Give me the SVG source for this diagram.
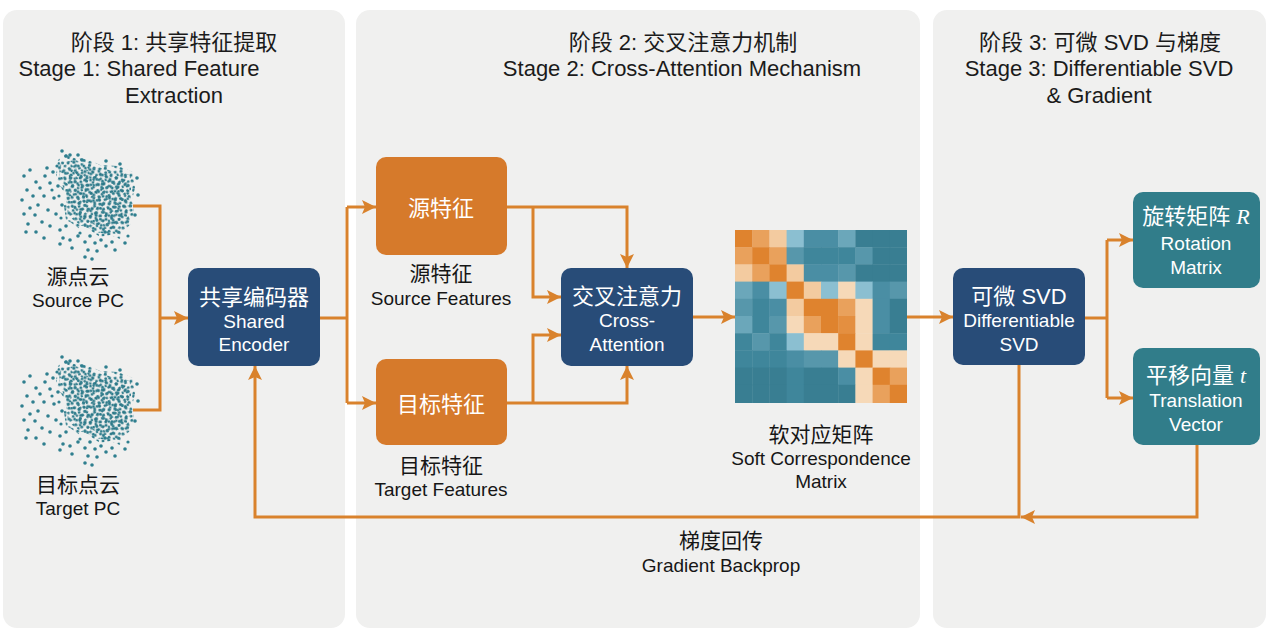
<svg xmlns="http://www.w3.org/2000/svg" width="1269" height="630" viewBox="0 0 1269 630">
  <defs>
    <style>
      text { font-family: "Liberation Sans", "Noto Sans CJK SC", sans-serif; text-anchor: middle; dominant-baseline: central; }
      .panel { fill: #f0f0ef; }
      .title { font-size: 22px; fill: #1b1b1b; }
      .cn { font-size: 21px; fill: #161616; }
      .en { font-size: 19px; fill: #161616; }
      .bcn { font-size: 22px; fill: #ffffff; }
      .ben { font-size: 19px; fill: #ffffff; }
      .blue { fill: #284c78; }
      .orange { fill: #d67a2b; }
      .teal { fill: #317d8a; }
      .conn { fill: none; stroke: #d9822c; stroke-width: 3; }
      .math { font-family: "Liberation Serif", "DejaVu Serif", serif; font-style: italic; }
      .dot { fill: #2f7f8f; }
    </style>
    <marker id="arrow" markerUnits="userSpaceOnUse" markerWidth="16" markerHeight="16" refX="14" refY="7" orient="auto">
      <path d="M0,0 L14,7 L0,14 L3,7 Z" fill="#d9822c"/>
    </marker>
    <!-- irregular dot tiles for the dense core of a point cloud -->
    <pattern id="dotsA" patternUnits="userSpaceOnUse" width="16" height="16" patternTransform="rotate(11)">
      <g fill="#2c7b8b">
        <circle cx="2" cy="3" r="1.5"/><circle cx="7.5" cy="1.2" r="1.5"/><circle cx="12.5" cy="4" r="1.5"/>
        <circle cx="4.2" cy="8.3" r="1.5"/><circle cx="10.4" cy="9.2" r="1.5"/><circle cx="14.3" cy="12.6" r="1.5"/>
        <circle cx="1.3" cy="13.4" r="1.5"/><circle cx="7.2" cy="14.2" r="1.5"/><circle cx="8.8" cy="5.3" r="1.4"/>
      </g>
    </pattern>
    <pattern id="dotsB" patternUnits="userSpaceOnUse" width="13" height="13" patternTransform="rotate(-23) translate(2 5)">
      <g fill="#337f8e">
        <circle cx="1" cy="2" r="1.4"/><circle cx="6" cy="4.3" r="1.4"/><circle cx="11" cy="1.2" r="1.4"/>
        <circle cx="3.2" cy="8" r="1.4"/><circle cx="9.1" cy="9.4" r="1.4"/><circle cx="5.4" cy="12" r="1.4"/>
        <circle cx="12.1" cy="6.8" r="1.4"/>
      </g>
    </pattern>
    <pattern id="dotsC" patternUnits="userSpaceOnUse" width="11" height="11" patternTransform="rotate(41) translate(4 1)">
      <g fill="#2a7686">
        <circle cx="2.4" cy="1.8" r="1.3"/><circle cx="8.2" cy="3.9" r="1.3"/><circle cx="4.6" cy="7.7" r="1.3"/>
        <circle cx="9.8" cy="9.6" r="1.3"/>
      </g>
    </pattern>
    <!-- one point cloud, drawn at the source position -->
    <g id="cloud">
      <path d="M58,160 L66,154 L75,158 L88,159 L100,165 L118,166 L133,172 L135,188 L132,200 L134,212 L130,225 L122,232 L120,239 L110,235 L100,237 L90,230 L80,229 L70,222 L66,220 L64,206 L66,195 L60,186 L56,175 Z" fill="url(#dotsA)"/>
      <path d="M60,163 L75,160 L100,168 L131,175 L131,200 L128,223 L118,234 L100,233 L80,225 L68,216 L66,195 L59,176 Z" fill="url(#dotsB)"/>
      <path d="M68,168 L100,171 L128,180 L127,216 L112,229 L84,222 L72,208 Z" fill="url(#dotsC)"/>
      <g class="dot">
        <circle cx="24" cy="176" r="1.8"/><circle cx="30" cy="170" r="1.8"/><circle cx="36" cy="182" r="1.8"/>
        <circle cx="27" cy="190" r="1.8"/><circle cx="33" cy="196" r="1.8"/><circle cx="40" cy="188" r="1.8"/>
        <circle cx="45" cy="176" r="1.8"/><circle cx="50" cy="183" r="1.8"/><circle cx="44" cy="196" r="1.8"/>
        <circle cx="38" cy="205" r="1.8"/><circle cx="30" cy="208" r="1.8"/><circle cx="24" cy="214" r="1.8"/>
        <circle cx="35" cy="215" r="1.8"/><circle cx="42" cy="222" r="1.8"/><circle cx="28" cy="224" r="1.8"/>
        <circle cx="48" cy="210" r="1.8"/><circle cx="54" cy="198" r="1.8"/><circle cx="56" cy="214" r="1.8"/>
        <circle cx="50" cy="226" r="1.8"/><circle cx="36" cy="232" r="1.8"/><circle cx="22" cy="200" r="1.8"/>
        <circle cx="60" cy="230" r="1.8"/><circle cx="58" cy="186" r="1.8"/><circle cx="47" cy="168" r="1.8"/>
        <circle cx="53" cy="172" r="1.8"/><circle cx="63" cy="238" r="1.8"/><circle cx="70" cy="240" r="1.8"/>
        <circle cx="78" cy="236" r="1.8"/><circle cx="85" cy="242" r="1.8"/><circle cx="72" cy="248" r="1.8"/>
        <circle cx="60" cy="244" r="1.8"/><circle cx="44" cy="238" r="1.8"/><circle cx="26" cy="232" r="1.8"/>
        <circle cx="90" cy="236" r="1.8"/><circle cx="95" cy="243" r="1.8"/><circle cx="88" cy="250" r="1.8"/>
        <circle cx="97" cy="251" r="1.8"/><circle cx="85" cy="257" r="1.8"/><circle cx="92" cy="259" r="1.8"/>
        <circle cx="101" cy="240" r="1.8"/><circle cx="106" cy="246" r="1.8"/><circle cx="62" cy="151" r="1.8"/>
        <circle cx="70" cy="155" r="1.8"/><circle cx="82" cy="160" r="1.8"/><circle cx="106" cy="161" r="1.8"/>
        <circle cx="120" cy="164" r="1.8"/><circle cx="137" cy="178" r="1.8"/><circle cx="138" cy="195" r="1.8"/>
        <circle cx="135" cy="215" r="1.8"/><circle cx="125" cy="243" r="1.8"/><circle cx="112" cy="242" r="1.8"/>
        <circle cx="115" cy="250" r="1.8"/><circle cx="105" cy="232" r="1.8"/><circle cx="66" cy="156" r="1.8"/>
        <circle cx="78" cy="155" r="1.8"/><circle cx="62" cy="205" r="1.8"/><circle cx="66" cy="226" r="1.8"/>
        <circle cx="59" cy="196" r="1.6"/><circle cx="61" cy="218" r="1.6"/><circle cx="52" cy="190" r="1.6"/>
        <circle cx="57" cy="166" r="1.6"/><circle cx="128" cy="236" r="1.6"/><circle cx="80" cy="233" r="1.6"/>
      </g>
    </g>
  </defs>

  <rect width="1269" height="630" fill="#ffffff"/>

  <!-- stage panels -->
  <g id="panels">
    <rect class="panel" x="3" y="10" width="342" height="618" rx="14"/>
    <rect class="panel" x="356" y="10" width="564" height="618" rx="14"/>
    <rect class="panel" x="933" y="10" width="333" height="618" rx="14"/>
  </g>

  <g id="titles">
    <text class="title" x="174" y="42">阶段 1: 共享特征提取</text>
    <text class="title" x="139" y="68">Stage 1: Shared Feature</text>
    <text class="title" x="174" y="95">Extraction</text>
    <text class="title" x="683" y="42">阶段 2: 交叉注意力机制</text>
    <text class="title" x="682" y="68">Stage 2: Cross-Attention Mechanism</text>
    <text class="title" x="1100" y="42">阶段 3: 可微 SVD 与梯度</text>
    <text class="title" x="1099" y="68">Stage 3: Differentiable SVD</text>
    <text class="title" x="1099" y="95">&amp; Gradient</text>
  </g>

  <!-- connectors -->
  <g id="connectors">
    <path class="conn" d="M133,206 H160 V410 H133"/>
    <path class="conn" d="M160,318 H188" marker-end="url(#arrow)"/>
    <path class="conn" d="M320,318 H347"/>
    <path class="conn" d="M347,207 V403"/>
    <path class="conn" d="M347,207 H376" marker-end="url(#arrow)"/>
    <path class="conn" d="M347,403 H376" marker-end="url(#arrow)"/>
    <path class="conn" d="M507,207 H627 V268" marker-end="url(#arrow)"/>
    <path class="conn" d="M533,207 V297 H561" marker-end="url(#arrow)"/>
    <path class="conn" d="M507,403 H627 V366" marker-end="url(#arrow)"/>
    <path class="conn" d="M533,403 V335 H561" marker-end="url(#arrow)"/>
    <path class="conn" d="M693,317 H735" marker-end="url(#arrow)"/>
    <path class="conn" d="M907,317 H953" marker-end="url(#arrow)"/>
    <path class="conn" d="M1085,318 H1107"/>
    <path class="conn" d="M1107,240 V398"/>
    <path class="conn" d="M1107,240 H1133" marker-end="url(#arrow)"/>
    <path class="conn" d="M1107,398 H1133" marker-end="url(#arrow)"/>
    <path class="conn" d="M1019,365 V517 H255 V366" marker-end="url(#arrow)"/>
    <path class="conn" d="M1197,445 V517 H1021" marker-end="url(#arrow)"/>
  </g>

  <g id="source-pc">
    <use href="#cloud"/>
    <text class="cn" x="78" y="276">源点云</text>
    <text class="en" x="78" y="300">Source PC</text>
  </g>

  <g id="target-pc">
    <use href="#cloud" transform="translate(0 206)"/>
    <text class="cn" x="78" y="484">目标点云</text>
    <text class="en" x="78" y="508">Target PC</text>
  </g>

  <g id="shared-encoder">
    <rect class="blue" x="188" y="268" width="132" height="98" rx="10"/>
    <text class="bcn" x="254" y="297">共享编码器</text>
    <text class="ben" x="254" y="321">Shared</text>
    <text class="ben" x="254" y="344">Encoder</text>
  </g>

  <g id="source-features">
    <rect class="orange" x="376" y="157" width="131" height="98" rx="10"/>
    <text class="bcn" x="441" y="208">源特征</text>
    <text class="cn" x="441" y="273">源特征</text>
    <text class="en" x="441" y="298">Source Features</text>
  </g>

  <g id="target-features">
    <rect class="orange" x="376" y="359" width="131" height="86" rx="10"/>
    <text class="bcn" x="441" y="404">目标特征</text>
    <text class="cn" x="441" y="465">目标特征</text>
    <text class="en" x="441" y="489">Target Features</text>
  </g>

  <g id="cross-attention">
    <rect class="blue" x="561" y="268" width="132" height="98" rx="10"/>
    <text class="bcn" x="627" y="296">交叉注意力</text>
    <text class="ben" x="627" y="320">Cross-</text>
    <text class="ben" x="627" y="344">Attention</text>
  </g>

  <!-- 10x10 soft correspondence heatmap, cell 17.2 -->
  <g id="soft-correspondence">
    <g>
      <!-- row 0 -->
      <rect x="735" y="230" width="17.6" height="17.6" fill="#df832e"/>
      <rect x="752.2" y="230" width="17.6" height="17.6" fill="#e9a15c"/>
      <rect x="769.4" y="230" width="17.6" height="17.6" fill="#f3cba0"/>
      <rect x="786.6" y="230" width="17.6" height="17.6" fill="#8bbfd1"/>
      <rect x="803.8" y="230" width="17.6" height="17.6" fill="#4a8ea4"/>
      <rect x="821" y="230" width="17.6" height="17.6" fill="#4a8ea4"/>
      <rect x="838.2" y="230" width="17.6" height="17.6" fill="#6ba7ba"/>
      <rect x="855.4" y="230" width="17.6" height="17.6" fill="#397e92"/>
      <rect x="872.6" y="230" width="17.6" height="17.6" fill="#397e92"/>
      <rect x="889.8" y="230" width="17.2" height="17.6" fill="#397e92"/>
      <!-- row 1 -->
      <rect x="735" y="247.2" width="17.6" height="17.6" fill="#e9a15c"/>
      <rect x="752.2" y="247.2" width="17.6" height="17.6" fill="#df832e"/>
      <rect x="769.4" y="247.2" width="17.6" height="17.6" fill="#e9a15c"/>
      <rect x="786.6" y="247.2" width="17.6" height="17.6" fill="#5797ab"/>
      <rect x="803.8" y="247.2" width="17.6" height="17.6" fill="#3f869b"/>
      <rect x="821" y="247.2" width="17.6" height="17.6" fill="#3f869b"/>
      <rect x="838.2" y="247.2" width="17.6" height="17.6" fill="#3f869b"/>
      <rect x="855.4" y="247.2" width="17.6" height="17.6" fill="#5797ab"/>
      <rect x="872.6" y="247.2" width="17.6" height="17.6" fill="#397e92"/>
      <rect x="889.8" y="247.2" width="17.2" height="17.6" fill="#397e92"/>
      <!-- row 2 -->
      <rect x="735" y="264.4" width="17.6" height="17.6" fill="#f3cba0"/>
      <rect x="752.2" y="264.4" width="17.6" height="17.6" fill="#e9a15c"/>
      <rect x="769.4" y="264.4" width="17.6" height="17.6" fill="#df832e"/>
      <rect x="786.6" y="264.4" width="17.6" height="17.6" fill="#f3cba0"/>
      <rect x="803.8" y="264.4" width="17.6" height="17.6" fill="#4a8ea4"/>
      <rect x="821" y="264.4" width="17.6" height="17.6" fill="#4a8ea4"/>
      <rect x="838.2" y="264.4" width="17.6" height="17.6" fill="#5797ab"/>
      <rect x="855.4" y="264.4" width="17.6" height="17.6" fill="#397e92"/>
      <rect x="872.6" y="264.4" width="17.6" height="17.6" fill="#397e92"/>
      <rect x="889.8" y="264.4" width="17.2" height="17.6" fill="#397e92"/>
      <!-- row 3 -->
      <rect x="735" y="281.6" width="17.6" height="17.6" fill="#6ba7ba"/>
      <rect x="752.2" y="281.6" width="17.6" height="17.6" fill="#4a8ea4"/>
      <rect x="769.4" y="281.6" width="17.6" height="17.6" fill="#8bbfd1"/>
      <rect x="786.6" y="281.6" width="17.6" height="17.6" fill="#df832e"/>
      <rect x="803.8" y="281.6" width="17.6" height="17.6" fill="#f3cba0"/>
      <rect x="821" y="281.6" width="17.6" height="17.6" fill="#8bbfd1"/>
      <rect x="838.2" y="281.6" width="17.6" height="17.6" fill="#f6d9b8"/>
      <rect x="855.4" y="281.6" width="17.6" height="17.6" fill="#8bbfd1"/>
      <rect x="872.6" y="281.6" width="17.6" height="17.6" fill="#4a8ea4"/>
      <rect x="889.8" y="281.6" width="17.2" height="17.6" fill="#5797ab"/>
      <!-- row 4 -->
      <rect x="735" y="298.8" width="17.6" height="17.6" fill="#5797ab"/>
      <rect x="752.2" y="298.8" width="17.6" height="17.6" fill="#3f869b"/>
      <rect x="769.4" y="298.8" width="17.6" height="17.6" fill="#4a8ea4"/>
      <rect x="786.6" y="298.8" width="17.6" height="17.6" fill="#f3cba0"/>
      <rect x="803.8" y="298.8" width="17.6" height="17.6" fill="#df832e"/>
      <rect x="821" y="298.8" width="17.6" height="17.6" fill="#df832e"/>
      <rect x="838.2" y="298.8" width="17.6" height="17.6" fill="#e9a15c"/>
      <rect x="855.4" y="298.8" width="17.6" height="17.6" fill="#f6d9b8"/>
      <rect x="872.6" y="298.8" width="17.6" height="17.6" fill="#4a8ea4"/>
      <rect x="889.8" y="298.8" width="17.2" height="17.6" fill="#397e92"/>
      <!-- row 5 -->
      <rect x="735" y="316" width="17.6" height="17.6" fill="#6ba7ba"/>
      <rect x="752.2" y="316" width="17.6" height="17.6" fill="#3f869b"/>
      <rect x="769.4" y="316" width="17.6" height="17.6" fill="#5797ab"/>
      <rect x="786.6" y="316" width="17.6" height="17.6" fill="#f6d9b8"/>
      <rect x="803.8" y="316" width="17.6" height="17.6" fill="#e9a15c"/>
      <rect x="821" y="316" width="17.6" height="17.6" fill="#df832e"/>
      <rect x="838.2" y="316" width="17.6" height="17.6" fill="#e48f40"/>
      <rect x="855.4" y="316" width="17.6" height="17.6" fill="#f6d9b8"/>
      <rect x="872.6" y="316" width="17.6" height="17.6" fill="#4a8ea4"/>
      <rect x="889.8" y="316" width="17.2" height="17.6" fill="#397e92"/>
      <!-- row 6 -->
      <rect x="735" y="333.2" width="17.6" height="17.6" fill="#3f869b"/>
      <rect x="752.2" y="333.2" width="17.6" height="17.6" fill="#5797ab"/>
      <rect x="769.4" y="333.2" width="17.6" height="17.6" fill="#3f869b"/>
      <rect x="786.6" y="333.2" width="17.6" height="17.6" fill="#8bbfd1"/>
      <rect x="803.8" y="333.2" width="17.6" height="17.6" fill="#f6d9b8"/>
      <rect x="821" y="333.2" width="17.6" height="17.6" fill="#f6d9b8"/>
      <rect x="838.2" y="333.2" width="17.6" height="17.6" fill="#df832e"/>
      <rect x="855.4" y="333.2" width="17.6" height="17.6" fill="#f6d9b8"/>
      <rect x="872.6" y="333.2" width="17.6" height="17.6" fill="#3f869b"/>
      <rect x="889.8" y="333.2" width="17.2" height="17.6" fill="#3f869b"/>
      <!-- row 7 -->
      <rect x="735" y="350.4" width="17.6" height="17.6" fill="#3f869b"/>
      <rect x="752.2" y="350.4" width="17.6" height="17.6" fill="#3f869b"/>
      <rect x="769.4" y="350.4" width="17.6" height="17.6" fill="#3f869b"/>
      <rect x="786.6" y="350.4" width="17.6" height="17.6" fill="#4a8ea4"/>
      <rect x="803.8" y="350.4" width="17.6" height="17.6" fill="#5797ab"/>
      <rect x="821" y="350.4" width="17.6" height="17.6" fill="#5797ab"/>
      <rect x="838.2" y="350.4" width="17.6" height="17.6" fill="#f6d9b8"/>
      <rect x="855.4" y="350.4" width="17.6" height="17.6" fill="#df832e"/>
      <rect x="872.6" y="350.4" width="17.6" height="17.6" fill="#f6d9b8"/>
      <rect x="889.8" y="350.4" width="17.2" height="17.6" fill="#f6d9b8"/>
      <!-- row 8 -->
      <rect x="735" y="367.6" width="17.6" height="17.6" fill="#397e92"/>
      <rect x="752.2" y="367.6" width="17.6" height="17.6" fill="#397e92"/>
      <rect x="769.4" y="367.6" width="17.6" height="17.6" fill="#397e92"/>
      <rect x="786.6" y="367.6" width="17.6" height="17.6" fill="#3f869b"/>
      <rect x="803.8" y="367.6" width="17.6" height="17.6" fill="#397e92"/>
      <rect x="821" y="367.6" width="17.6" height="17.6" fill="#397e92"/>
      <rect x="838.2" y="367.6" width="17.6" height="17.6" fill="#4a8ea4"/>
      <rect x="855.4" y="367.6" width="17.6" height="17.6" fill="#f6d9b8"/>
      <rect x="872.6" y="367.6" width="17.6" height="17.6" fill="#df832e"/>
      <rect x="889.8" y="367.6" width="17.2" height="17.6" fill="#e9a15c"/>
      <!-- row 9 -->
      <rect x="735" y="384.8" width="17.6" height="18.2" fill="#397e92"/>
      <rect x="752.2" y="384.8" width="17.6" height="18.2" fill="#397e92"/>
      <rect x="769.4" y="384.8" width="17.6" height="18.2" fill="#397e92"/>
      <rect x="786.6" y="384.8" width="17.6" height="18.2" fill="#3f869b"/>
      <rect x="803.8" y="384.8" width="17.6" height="18.2" fill="#397e92"/>
      <rect x="821" y="384.8" width="17.6" height="18.2" fill="#397e92"/>
      <rect x="838.2" y="384.8" width="17.6" height="18.2" fill="#397e92"/>
      <rect x="855.4" y="384.8" width="17.6" height="18.2" fill="#f6d9b8"/>
      <rect x="872.6" y="384.8" width="17.6" height="18.2" fill="#e9a15c"/>
      <rect x="889.8" y="384.8" width="17.2" height="18.2" fill="#df832e"/>
    </g>
    <text class="cn" x="821" y="434">软对应矩阵</text>
    <text class="en" x="821" y="458">Soft Correspondence</text>
    <text class="en" x="821" y="481">Matrix</text>
  </g>

  <g id="differentiable-svd">
    <rect class="blue" x="953" y="268" width="132" height="97" rx="10"/>
    <text class="bcn" x="1019" y="296">可微 SVD</text>
    <text class="ben" x="1019" y="320">Differentiable</text>
    <text class="ben" x="1019" y="344">SVD</text>
  </g>

  <g id="rotation-matrix">
    <rect class="teal" x="1133" y="192" width="127" height="96" rx="10"/>
    <text class="bcn" x="1196" y="216">旋转矩阵 <tspan class="math">R</tspan></text>
    <text class="ben" x="1196" y="243">Rotation</text>
    <text class="ben" x="1196" y="267">Matrix</text>
  </g>

  <g id="translation-vector">
    <rect class="teal" x="1133" y="348" width="127" height="97" rx="10"/>
    <text class="bcn" x="1196" y="375">平移向量 <tspan class="math">t</tspan></text>
    <text class="ben" x="1196" y="400">Translation</text>
    <text class="ben" x="1196" y="424">Vector</text>
  </g>

  <g id="gradient-backprop">
    <text class="cn" x="721" y="540">梯度回传</text>
    <text class="en" x="721" y="565">Gradient Backprop</text>
  </g>
</svg>
